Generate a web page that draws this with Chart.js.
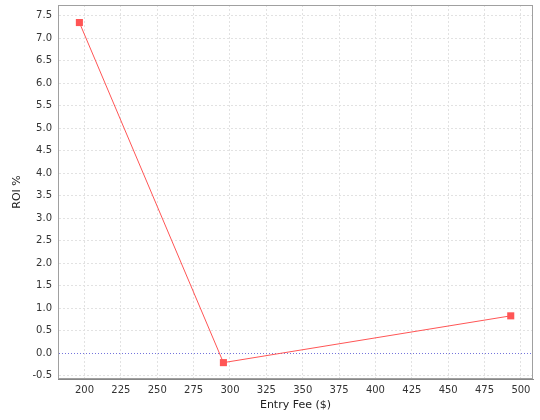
<!DOCTYPE html>
<html>
<head>
<meta charset="utf-8">
<script src="https://cdn.jsdelivr.net/npm/chart.js@4/dist/chart.umd.min.js"></script>
<style>
  html, body { margin: 0; padding: 0; background: #fff; }
  #wrap { width: 540px; height: 420px; }
</style>
</head>
<body>
<div id="wrap"><canvas id="roiChart" width="540" height="420"></canvas></div>
<script>
//-- data
const entryFees = [196.5, 295.5, 493];
const roiValues = [7.35, -0.21, 0.83];
const xTicks = [200, 225, 250, 275, 300, 325, 350, 375, 400, 425, 450, 475, 500];
const yTicks = [-0.5, 0.0, 0.5, 1.0, 1.5, 2.0, 2.5, 3.0, 3.5, 4.0, 4.5, 5.0, 5.5, 6.0, 6.5, 7.0, 7.5];

const lineColour = "#ff5555";
const gridColour = "#e2e2e2";
const zeroColour = "#7474dc";
const fontName = "'DejaVu Sans', sans-serif";

var points = [];
for (let i = 0; i < entryFees.length; i++) {
    points.push({ x: entryFees[i], y: roiValues[i] });
}

//draws the thin box around the plot area
var outlinePlugin = {
    id: "outline",
    afterDraw: function(chart) {
        let a = chart.chartArea;
        let ctx = chart.ctx;
        ctx.save();
        ctx.strokeStyle = "#a0a0a0";
        ctx.lineWidth = 1;
        ctx.strokeRect(Math.round(a.left) + 0.5, Math.round(a.top) + 0.5,
            Math.round(a.right - a.left) - 1, Math.round(a.bottom - a.top) - 1);
        ctx.restore();
    }
};

var gridLineColour = function(ctx) {
    if (ctx.tick && ctx.tick.value === 0 && ctx.scale.axis === "y") {
        return zeroColour;
    }
    return gridColour;
};

var gridLineDash = function(ctx) {
    if (ctx.tick && ctx.tick.value === 0 && ctx.scale.axis === "y") {
        return [1, 2];
    }
    return [2, 2];
};

var chart = new Chart(document.getElementById("roiChart"), {
    type: "line",
    data: {
        datasets: [{
            label: "ROI",
            data: points,
            borderColor: lineColour,
            backgroundColor: lineColour,
            borderWidth: 1,
            pointStyle: "rect",
            pointRadius: 5,
            pointHoverRadius: 5,
            pointBorderWidth: 0,
            tension: 0,
            fill: false
        }]
    },
    options: {
        responsive: false,
        animation: false,
        events: [],
        layout: { padding: { left: 0, top: 4, right: 7, bottom: 0 } },
        plugins: {
            legend: { display: false },
            tooltip: { enabled: false }
        },
        scales: {
            x: {
                type: "linear",
                min: 181.8,
                max: 508.3,
                afterFit: function(scale) {
                    scale.height = 41;
                    scale.paddingLeft = 0;
                    scale.paddingRight = 0;
                },
                afterBuildTicks: function(scale) {
                    scale.ticks = xTicks.map(v => ({ value: v }));
                },
                grid: { color: gridColour, lineWidth: 1, drawTicks: false },
                border: { display: true, color: "#888888", width: 1, dash: [2, 2] },
                ticks: {
                    padding: 5,
                    color: "#333333",
                    font: { family: fontName, size: 10 },
                    maxRotation: 0,
                    autoSkip: false,
                    callback: v => String(v)
                },
                title: {
                    display: true,
                    text: "Entry Fee ($)",
                    color: "#222222",
                    font: { family: fontName, size: 11 },
                    padding: { top: 0, bottom: 8 }
                }
            },
            y: {
                type: "linear",
                min: -0.574,
                max: 7.74,
                afterFit: function(scale) {
                    scale.width = 58;
                    scale.paddingTop = 0;
                    scale.paddingBottom = 0;
                },
                afterBuildTicks: function(scale) {
                    scale.ticks = yTicks.map(v => ({ value: v }));
                },
                grid: { color: gridLineColour, lineWidth: 1, drawTicks: false },
                border: { display: true, color: "#888888", width: 1, dash: gridLineDash },
                ticks: {
                    padding: 6,
                    color: "#333333",
                    font: { family: fontName, size: 10 },
                    autoSkip: false,
                    callback: v => v.toFixed(1)
                },
                title: {
                    display: true,
                    text: "ROI %",
                    color: "#222222",
                    font: { family: fontName, size: 11 },
                    padding: { top: 11, bottom: 0 }
                }
            }
        }
    },
    plugins: [outlinePlugin]
});
</script>
</body>
</html>
